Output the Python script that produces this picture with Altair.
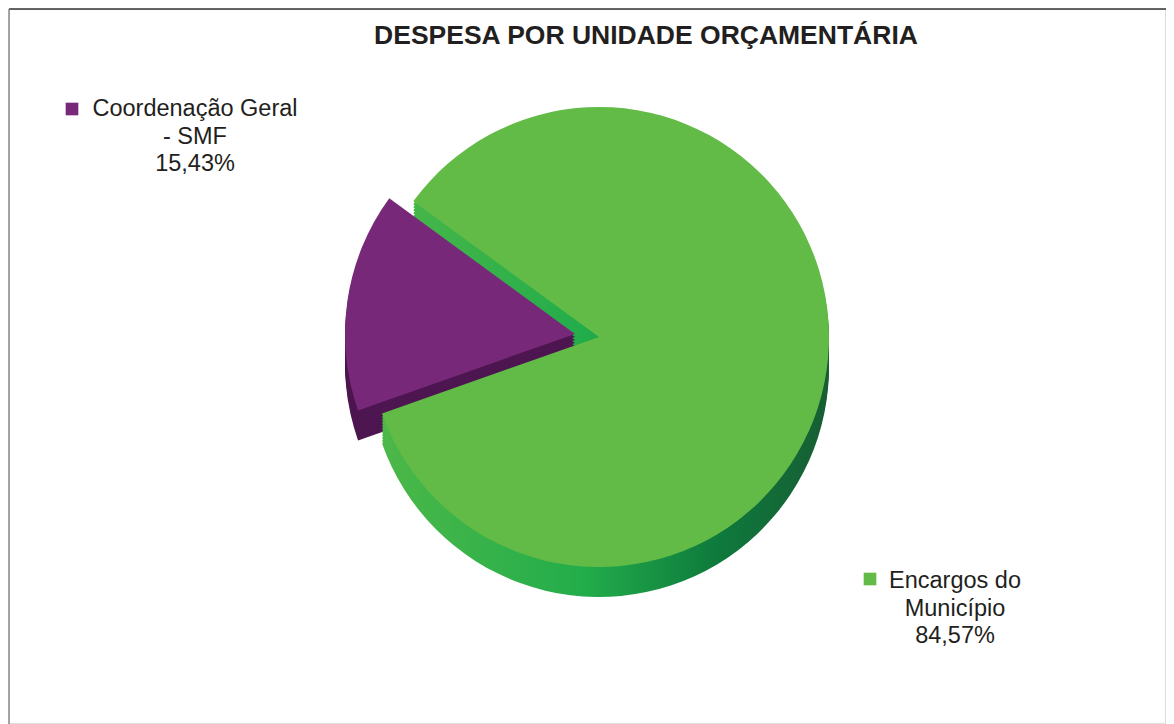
import altair as alt
import pandas as pd
import math

categories = ["Coordenação Geral - SMF", "Encargos do Município"]
values = [15.43, 84.57]
label_lines = [["Coordenação Geral", "- SMF"], ["Encargos do", "Município"]]
top_colors = ["#772878", "#63bb47"]
side_colors = ["#4d1650", "#1f8a45"]
title_text = "DESPESA POR UNIDADE ORÇAMENTÁRIA"

def pct(v):
    return f"{v:.2f}".replace(".", ",") + "%"

df = pd.DataFrame({
    "cat": categories,
    "value": values,
    "order": list(range(len(categories))),
    "label": ["\n".join(lines + [pct(v)]) for lines, v in zip(label_lines, values)],
})

W, H = 1158, 716
CX, CY = 590, 328
R = 230
DEPTH = 30
OFF_X, OFF_Y = -24, -3
start = math.radians(250.6)

base = alt.Chart(df).transform_joinaggregate(
    total="sum(value)"
).transform_window(
    cum="sum(value)", sort=[alt.SortField("order")]
).transform_calculate(
    t0="(datum.cum - datum.value) / datum.total",
    t1="datum.cum / datum.total",
)

theta_scale = alt.Scale(domain=[0, 1], range=[start, start + 2 * math.pi])

def arc(cat_idx, x, y, fill):
    return base.transform_filter(
        alt.datum.order == cat_idx
    ).mark_arc(radius=R, fill=fill, stroke=None).encode(
        theta=alt.Theta("t0:Q", scale=theta_scale),
        theta2="t1:Q",
        x=alt.value(x),
        y=alt.value(y),
    )

green_side_grad = alt.Gradient(
    gradient="linear",
    stops=[
        alt.GradientStop(color="#4cb848", offset=0),
        alt.GradientStop(color="#22ad4b", offset=0.45),
        alt.GradientStop(color="#0e7a3c", offset=0.75),
        alt.GradientStop(color="#175d33", offset=1),
    ],
    x1=0, x2=1, y1=0, y2=0,
)

layers = []
for k in range(DEPTH, 0, -3):
    layers.append(arc(1, CX, CY + k, green_side_grad))
    layers.append(arc(0, CX + OFF_X, CY + OFF_Y + k, side_colors[0]))
layers.append(arc(1, CX, CY, top_colors[1]))
layers.append(arc(0, CX + OFF_X, CY + OFF_Y, top_colors[0]))

title = alt.Chart(pd.DataFrame({"t": [title_text]})).mark_text(
    font="Liberation Sans", fontSize=26.5, fontWeight="bold", color="#231f20",
    align="center", baseline="middle"
).encode(text="t:N", x=alt.value(637), y=alt.value(27))

def label(cat_idx, x, y, sq_x, sq_y):
    d = base.transform_filter(alt.datum.order == cat_idx)
    txt = d.mark_text(
        font="Liberation Sans", fontSize=23.5, color="#231f20", align="center",
        baseline="middle", lineBreak="\n", lineHeight=27.5
    ).encode(text="label:N", x=alt.value(x), y=alt.value(y))
    sq = d.mark_square(size=160, filled=True, color=top_colors[cat_idx], opacity=1).encode(
        x=alt.value(sq_x), y=alt.value(sq_y)
    )
    return txt + sq

lab1 = label(0, 186, 100, 63, 100)
lab2 = label(1, 946, 572, 861, 570)

border_top = alt.Chart(pd.DataFrame({"a": [0]})).mark_rule(color="#333333", strokeWidth=1.5).encode(
    x=alt.value(0), x2=alt.value(W), y=alt.value(0)
)
border_left = alt.Chart(pd.DataFrame({"a": [0]})).mark_rule(color="#888888", strokeWidth=1.5).encode(
    x=alt.value(0), y=alt.value(0), y2=alt.value(H)
)

chart = alt.layer(*layers, title, lab1, lab2, border_top, border_left).properties(
    width=W, height=H,
    autosize=alt.AutoSizeParams(type="fit", contains="padding"),
    padding=0,
).configure_view(stroke=None).configure(background="white")

chart.save("out.html", embed_options={"renderer": "svg", "actions": False})
